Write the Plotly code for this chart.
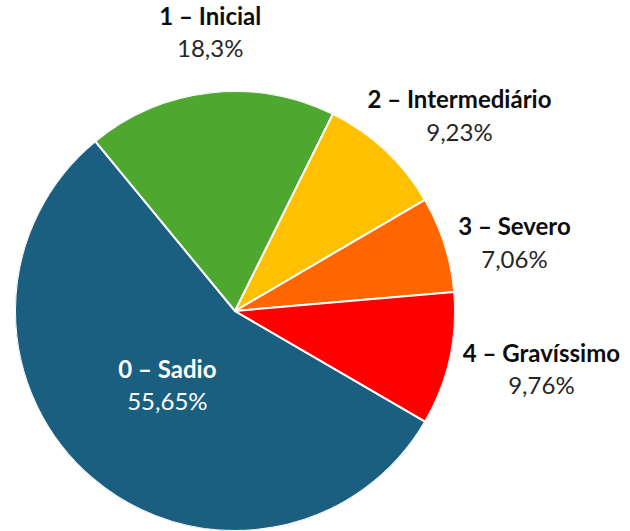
import math
import plotly.graph_objects as go

# ---- data ----
categories = ["0 – Sadio", "1 – Inicial", "2 – Intermediário", "3 – Severo", "4 – Gravíssimo"]
percentages = [55.65, 18.3, 9.23, 7.06, 9.76]

# ---- styles ----
colors = ["#1A5E80", "#4EA72E", "#FFC000", "#FF6600", "#FF0000"]
start_angle = 120.2          # where the first slice begins (clockwise from 12 o'clock)
label_r = [0.465, 1.26, 1.345, 1.305, 1.42]    # label distance (fraction of radius)
label_dtheta = [1.0, 1.4, 6.3, 4.4, -1.4]       # small angular nudge for label placement
name_colors = ["#FFFFFF", "#0D0D0D", "#0D0D0D", "#0D0D0D", "#0D0D0D"]
pct_colors = ["#FFFFFF", "#262626", "#262626", "#262626", "#262626"]
FONT = "Lato"
FS = 24

W, H = 630, 531
CX, CY, RAD = 235, 311, 220     # pie centre / radius in pixels
dom_x = [(CX - RAD) / W, (CX + RAD) / W]
dom_y = [(H - CY - RAD) / H, (H - CY + RAD) / H]

total = sum(percentages)
mids, widths = [], []
cum = 0.0
for v in percentages:
    mids.append(start_angle + 360.0 * (cum + v / 2.0) / total)
    widths.append(360.0 * v / total)
    cum += v

def fmt(v):
    return f"{v:g}".replace(".", ",") + "%"

def label(name, v, nc, pc):
    return (f"<span style='font-size:{FS}px;color:{nc}'><b>{name}</b></span><br>"
            f"<span style='font-size:{FS}px;color:{pc}'>{fmt(v)}</span>")

texts = [label(c, v, nc, pc) for c, v, nc, pc in zip(categories, percentages, name_colors, pct_colors)]
lab_theta = [m + d for m, d in zip(mids, label_dtheta)]

# outside labels (slices 1..4) on a cartesian text layer scaled to the pie radius
out_x = [label_r[i] * math.sin(math.radians(lab_theta[i])) for i in range(1, len(categories))]
out_y = [label_r[i] * math.cos(math.radians(lab_theta[i])) for i in range(1, len(categories))]

fig = go.Figure()
fig.add_trace(go.Scatter(
    x=out_x, y=out_y,
    mode="text",
    text=texts[1:],
    textposition="middle center",
    textfont=dict(family=FONT, size=25),
    cliponaxis=False,
    hoverinfo="skip",
    showlegend=False,
))
# the pie itself, as full wedges on a polar subplot
fig.add_trace(go.Barpolar(
    r=[1] * len(percentages),
    theta=mids,
    width=widths,
    marker=dict(color=colors, line=dict(color="white", width=2)),
    hovertext=[f"{c}: {fmt(v)}" for c, v in zip(categories, percentages)],
    hoverinfo="text",
    showlegend=False,
))
# inside label of slice 0
fig.add_trace(go.Scatterpolar(
    r=[label_r[0]],
    theta=[lab_theta[0]],
    mode="text",
    text=[texts[0]],
    textposition="middle center",
    textfont=dict(family=FONT, size=25),
    hoverinfo="skip",
    showlegend=False,
))
fig.update_layout(
    width=W, height=H,
    margin=dict(l=0, r=0, t=0, b=0),
    paper_bgcolor="white",
    plot_bgcolor="rgba(0,0,0,0)",
    showlegend=False,
    xaxis=dict(visible=False, domain=[0, 1], range=[-CX / RAD, (W - CX) / RAD], fixedrange=True),
    yaxis=dict(visible=False, domain=[0, 1], range=[-(H - CY) / RAD, CY / RAD], fixedrange=True),
    polar=dict(
        domain=dict(x=dom_x, y=dom_y),
        bgcolor="rgba(0,0,0,0)",
        bargap=0,
        radialaxis=dict(visible=False, range=[0, 1], showgrid=False),
        angularaxis=dict(visible=False, rotation=90, direction="clockwise", showgrid=False),
    ),
)
fig.write_html("out.html", config={"displayModeBar": False},
               post_script="document.body.style.margin='0px';")
